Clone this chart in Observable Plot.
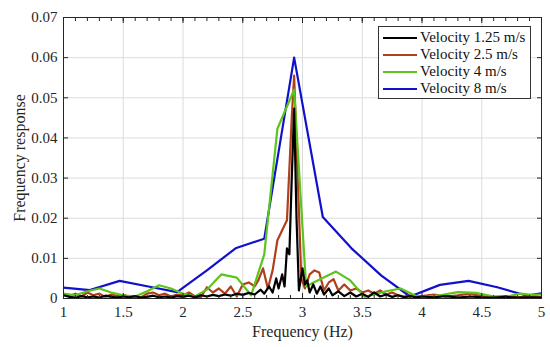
<!DOCTYPE html>
<html>
<head>
<meta charset="utf-8">
<script src="https://cdn.jsdelivr.net/npm/d3@7"></script>
<script src="https://cdn.jsdelivr.net/npm/@observablehq/plot@0.6"></script>
<style>
  html, body { margin: 0; padding: 0; background: #fff; }
  #wrap { position: relative; width: 550px; height: 347px; font-family: "Liberation Serif", "Times New Roman", serif; }
  #legend { position: absolute; left: 378px; top: 26px; width: 153px; height: 73px; background: #fff; border: 1px solid #333; box-sizing: border-box; padding-top: 2px; }
  .row { display: flex; align-items: center; height: 17px; font-size: 15px; color: #111; white-space: nowrap; }
  .sw { width: 34px; height: 0; border-top: 2.5px solid; margin-left: 4px; margin-right: 3px; }
</style>
</head>
<body>
<div id="wrap"><div id="chart"></div><div id="legend"></div></div>
<script>
// Series names and colours
const seriesNames = ["Velocity 1.25 m/s", "Velocity 2.5 m/s", "Velocity 4 m/s", "Velocity 8 m/s"];
const seriesColors = ["#000000", "#b0401c", "#5cc41a", "#1111cc"];

// Velocity 1.25 m/s
const freq1 = [1.00,1.05,1.10,1.15,1.20,1.25,1.30,1.35,1.40,1.45,1.50,1.55,1.60,1.65,1.70,1.75,1.80,1.85,1.90,1.95,2.00,2.05,2.10,2.15,2.20,2.25,2.30,2.35,2.40,2.45,2.50,2.55,2.60,2.65,2.68,2.72,2.75,2.78,2.80,2.83,2.85,2.87,2.89,2.91,2.93,2.95,2.97,3.00,3.02,3.04,3.06,3.09,3.12,3.15,3.18,3.22,3.25,3.30,3.35,3.40,3.45,3.50,3.55,3.60,3.65,3.70,3.75,3.80,3.85,3.90,3.95,4.00,4.10,4.20,4.30,4.40,4.50,4.60,4.70,4.80,4.90,5.00];
const val1 = [0.0008,0.0004,0.0002,0.0006,0.0003,0.0005,0.0002,0.0007,0.0004,0.0002,0.0005,0.0003,0.0006,0.0002,0.0004,0.0007,0.0003,0.0005,0.0002,0.0006,0.0004,0.0007,0.0003,0.0008,0.0005,0.0009,0.0006,0.0010,0.0007,0.0012,0.0009,0.0014,0.0010,0.0022,0.0012,0.0030,0.0015,0.0050,0.0025,0.0060,0.0030,0.0125,0.0110,0.0300,0.0473,0.0200,0.0020,0.0075,0.0035,0.0045,0.0015,0.0035,0.0012,0.0030,0.0010,0.0025,0.0008,0.0018,0.0006,0.0015,0.0005,0.0012,0.0004,0.0015,0.0005,0.0010,0.0004,0.0008,0.0003,0.0006,0.0003,0.0005,0.0003,0.0006,0.0002,0.0005,0.0003,0.0002,0.0004,0.0002,0.0003,0.0002];

// Velocity 2.5 m/s
const freq2 = [1.00,1.05,1.10,1.15,1.20,1.25,1.30,1.35,1.40,1.45,1.50,1.55,1.60,1.65,1.70,1.75,1.80,1.85,1.90,1.95,2.00,2.05,2.10,2.15,2.20,2.25,2.30,2.35,2.40,2.45,2.50,2.55,2.60,2.63,2.67,2.71,2.75,2.79,2.83,2.87,2.91,2.93,2.96,2.99,3.02,3.06,3.10,3.14,3.18,3.22,3.26,3.30,3.35,3.40,3.45,3.50,3.55,3.60,3.65,3.70,3.75,3.80,3.85,3.90,3.95,4.00,4.10,4.20,4.30,4.40,4.50,4.60,4.70,4.80,4.90,5.00];
const val2 = [0.0010,0.0006,0.0012,0.0005,0.0015,0.0008,0.0012,0.0004,0.0010,0.0006,0.0009,0.0004,0.0006,0.0003,0.0012,0.0015,0.0008,0.0012,0.0005,0.0010,0.0008,0.0015,0.0005,0.0003,0.0028,0.0015,0.0025,0.0012,0.0030,0.0005,0.0035,0.0040,0.0030,0.0045,0.0075,0.0025,0.0070,0.0145,0.0170,0.0195,0.0450,0.0555,0.0300,0.0050,0.0025,0.0060,0.0070,0.0065,0.0020,0.0040,0.0048,0.0020,0.0035,0.0020,0.0025,0.0015,0.0020,0.0012,0.0020,0.0010,0.0015,0.0008,0.0005,0.0008,0.0004,0.0006,0.0010,0.0005,0.0008,0.0012,0.0006,0.0004,0.0006,0.0003,0.0005,0.0004];

// Velocity 4 m/s
const freq3 = [1.00,1.10,1.20,1.30,1.40,1.50,1.60,1.70,1.80,1.90,2.00,2.10,2.20,2.32,2.45,2.57,2.68,2.79,2.93,3.03,3.08,3.28,3.40,3.52,3.60,3.70,3.82,3.95,4.05,4.15,4.30,4.45,4.60,4.70,4.82,4.92,5.00];
const val3 = [0.0012,0.0008,0.0018,0.0025,0.0015,0.0008,0.0005,0.0018,0.0033,0.0025,0.0012,0.0005,0.0022,0.0060,0.0052,0.0008,0.0110,0.0423,0.0520,0.0030,0.0038,0.0067,0.0045,0.0004,0.0010,0.0018,0.0025,0.0006,0.0005,0.0008,0.0016,0.0014,0.0005,0.0004,0.0012,0.0009,0.0010];

// Velocity 8 m/s
const freq4 = [1.00,1.22,1.47,1.71,1.95,2.20,2.44,2.68,2.93,3.17,3.41,3.66,3.90,4.15,4.39,4.63,4.88,5.00];
const val4 = [0.0027,0.0021,0.0044,0.0030,0.0016,0.0070,0.0125,0.0149,0.0600,0.0203,0.0125,0.0057,0.0005,0.0034,0.0044,0.0028,0.0007,0.0013];

// Axis ticks and titles
const xTicks = [1, 1.5, 2, 2.5, 3, 3.5, 4, 4.5, 5];
const yTicks = [0, 0.01, 0.02, 0.03, 0.04, 0.05, 0.06, 0.07];
const xMinor = d3.range(1, 5.001, 0.1).map(d => +d.toFixed(2));
const xTitle = "Frequency (Hz)";
const yTitle = "Frequency response";

const freqs = [freq1, freq2, freq3, freq4];
const vals = [val1, val2, val3, val4];
const series = seriesNames.map((name, i) => freqs[i].map((f, j) => ({f, v: vals[i][j], name})));

const lineFor = i => Plot.line(series[i], {x: "f", y: "v", stroke: seriesColors[i], strokeWidth: 2.2, clip: true});

const axisColor = "#262626";
const chart = Plot.plot({
  width: 550, height: 347,
  marginLeft: 63, marginRight: 9, marginTop: 17, marginBottom: 49,
  x: {domain: [1, 5]},
  y: {domain: [0, 0.07]},
  style: {fontFamily: "'Liberation Serif', 'Times New Roman', serif", fontSize: "15px", color: axisColor, background: "#fff", overflow: "visible"},
  marks: [
    Plot.gridX(xTicks, {stroke: "#dcdcdc", strokeOpacity: 1, strokeWidth: 1}),
    Plot.gridY(yTicks, {stroke: "#dcdcdc", strokeOpacity: 1, strokeWidth: 1}),
    lineFor(3), lineFor(1), lineFor(2), lineFor(0),
    Plot.frame({stroke: axisColor, strokeWidth: 1}),
    // inward ticks
    Plot.axisX(xMinor, {anchor: "bottom", tickSize: -3, tickFormat: () => "", label: null, stroke: axisColor}),
    Plot.axisX(xMinor, {anchor: "top", tickSize: -3, tickFormat: () => "", label: null, stroke: axisColor}),
    Plot.axisX(xTicks, {anchor: "bottom", tickSize: -5, tickFormat: () => "", label: null, stroke: axisColor}),
    Plot.axisX(xTicks, {anchor: "top", tickSize: -5, tickFormat: () => "", label: null, stroke: axisColor}),
    Plot.axisY(yTicks, {anchor: "left", tickSize: -5, tickFormat: () => "", label: null, stroke: axisColor}),
    Plot.axisY(yTicks, {anchor: "right", tickSize: -5, tickFormat: () => "", label: null, stroke: axisColor}),
    // tick labels
    Plot.axisX(xTicks, {anchor: "bottom", tickSize: 0, tickPadding: 8, tickFormat: d => String(d), fill: axisColor, label: null}),
    Plot.axisY(yTicks, {anchor: "left", tickSize: 0, tickPadding: 6, tickFormat: d => d === 0 ? "0" : d.toFixed(2), fill: axisColor, label: null}),
    // axis titles
    Plot.text([xTitle], {text: d => d, frameAnchor: "bottom", textAnchor: "middle", lineAnchor: "middle", dy: 33.5, fontSize: 16, fill: axisColor}),
    Plot.text([yTitle], {text: d => d, frameAnchor: "left", textAnchor: "middle", lineAnchor: "middle", rotate: -90, dx: -44, fontSize: 16, fill: axisColor})
  ]
});
document.getElementById("chart").appendChild(chart);

const legend = document.getElementById("legend");
seriesNames.forEach((name, i) => {
  const row = document.createElement("div");
  row.className = "row";
  const sw = document.createElement("div");
  sw.className = "sw";
  sw.style.borderTopColor = seriesColors[i];
  const t = document.createElement("span");
  t.textContent = name;
  row.appendChild(sw); row.appendChild(t);
  legend.appendChild(row);
});
</script>
</body>
</html>
